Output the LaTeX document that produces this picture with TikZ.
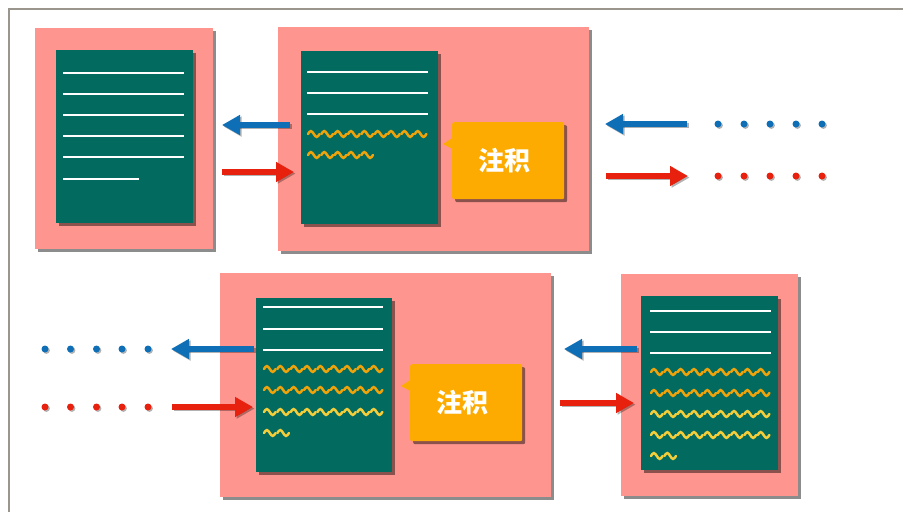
\documentclass[tikz,border=0pt]{standalone}
\usepackage{fontspec}
\newfontfamily\cjk{Noto Sans CJK SC}
\usetikzlibrary{arrows.meta,shadows,calc}
\definecolor{pinkc}{HTML}{FE958E}
\definecolor{greenc}{HTML}{036A60}
\definecolor{callc}{HTML}{FDAB00}
\definecolor{bluec}{HTML}{0F6FB6}
\definecolor{redc}{HTML}{E8200E}
\definecolor{waveo}{HTML}{EFA30A}
\definecolor{wavey}{HTML}{F3CD3A}
\definecolor{framec}{HTML}{9A968E}
\newcommand{\tilderow}[4]{%
  \foreach \k in {1,...,#3}{%
    \draw[wave,#4] ({#1+(\k-1)*13.35},#2) sin ++(2.9,-2.9) cos ++(2.9,2.9) sin ++(2.9,2.9) cos ++(2.9,-2.9);}}
\newcommand{\shadarrow}[3]{% style, from, to
  \draw[#1,draw=black,opacity=0.3,transform canvas={xshift=1.6pt,yshift=-1.6pt}] (#2) -- (#3);
  \draw[#1] (#2) -- (#3);}
\begin{document}
\begin{tikzpicture}[x=1pt,y=-1pt,
  shadowed/.style={drop shadow={shadow xshift=3pt,shadow yshift=-3pt,fill=black,opacity=0.45}},
  panel/.style={fill=pinkc,draw=none,anchor=north west,inner sep=0pt,shadowed},
  doc/.style={fill=greenc,draw=none,anchor=north west,inner sep=0pt,shadowed},
  callout/.style={fill=callc,draw=none,anchor=north west,inner sep=0pt,rounded corners=2pt,shadowed},
  calltext/.style={text=white,font=\cjk\bfseries\fontsize{26}{26}\selectfont,inner sep=0pt},
  wline/.style={draw=white,line width=1.7pt},
  wave/.style={line width=2.5pt,line cap=round},
  barrow/.style={draw=bluec,line width=5.4pt,-{Triangle[length=18pt,width=19pt]}},
  rarrow/.style={draw=redc,line width=5.4pt,-{Triangle[length=18pt,width=19pt]}},
  dotb/.style={fill=bluec},
  dotr/.style={fill=redc}]
\useasboundingbox (0,0) rectangle (903,512);
\fill[white] (0,0) rectangle (903,512);
\draw[framec,line width=2pt] (9,512) -- (9,9) -- (903,9);

% panels
\node[panel,minimum width=178pt,minimum height=221pt] (p1) at (35,28) {};
\node[panel,minimum width=311pt,minimum height=224pt] (p2) at (278,27) {};
\node[panel,minimum width=331pt,minimum height=224pt] (p3) at (220,273) {};
\node[panel,minimum width=177pt,minimum height=222pt] (p4) at (621,274) {};

% documents
\node[doc,minimum width=137pt,minimum height=173pt] (d1) at (56,50) {};
\node[doc,minimum width=137pt,minimum height=173pt] (d2) at (301,51) {};
\node[doc,minimum width=136pt,minimum height=174pt] (d3) at (256,298) {};
\node[doc,minimum width=137pt,minimum height=174pt] (d4) at (641,296) {};

% doc 1 lines
\foreach \yy in {73,94,115,136,157} \draw[wline] (63,\yy) -- (184,\yy);
\draw[wline] (63,179) -- (139,179);
% doc 2
\foreach \yy in {72,93,114} \draw[wline] (307,\yy) -- (428,\yy);
\tilderow{308}{134}{9}{waveo}
\tilderow{308}{155}{5}{waveo}
% doc 3
\foreach \yy in {307,329,350} \draw[wline] (263,\yy) -- (383,\yy);
\tilderow{264}{369}{9}{waveo}
\tilderow{264}{390}{9}{waveo}
\tilderow{264}{412}{9}{wavey}
\tilderow{264}{433}{2}{wavey}
% doc 4
\foreach \yy in {311,332,353} \draw[wline] (650,\yy) -- (771,\yy);
\tilderow{651}{372}{9}{waveo}
\tilderow{651}{393}{9}{waveo}
\tilderow{651}{414}{9}{wavey}
\tilderow{651}{435}{9}{wavey}
\tilderow{651}{456}{2}{wavey}

% callouts
\node[callout,minimum width=112pt,minimum height=77pt] (c2) at (452,122) {};
\fill[callc] ($(c2.north west)+(0.5,16)$) -- ($(c2.north west)+(-9,22)$) -- ($(c2.north west)+(0.5,27)$) -- cycle;
\node[calltext] (t2) at ($(c2.center)+(-4,0)$) {注积};
\node[callout,minimum width=112pt,minimum height=77pt] (c3) at (410,364) {};
\fill[callc] ($(c3.north west)+(0.5,16)$) -- ($(c3.north west)+(-9,22)$) -- ($(c3.north west)+(0.5,27)$) -- cycle;
\node[calltext] (t3) at ($(c3.center)+(-4,0)$) {注积};

% arrow endpoints
\coordinate (a1s) at (290,125); \coordinate (a1e) at (222,125);
\coordinate (a2s) at (222,172); \coordinate (a2e) at (294,172);
\coordinate (a3s) at (687,124); \coordinate (a3e) at (605,124);
\coordinate (a4s) at (606,176); \coordinate (a4e) at (688,176);
\coordinate (a5s) at (254,349); \coordinate (a5e) at (171,349);
\coordinate (a6s) at (172,407); \coordinate (a6e) at (253,407);
\coordinate (a7s) at (637,349); \coordinate (a7e) at (564,349);
\coordinate (a8s) at (560,403); \coordinate (a8e) at (634,403);
\shadarrow{barrow}{a1s}{a1e}
\shadarrow{rarrow}{a2s}{a2e}
\shadarrow{barrow}{a3s}{a3e}
\shadarrow{rarrow}{a4s}{a4e}
\shadarrow{barrow}{a5s}{a5e}
\shadarrow{rarrow}{a6s}{a6e}
\shadarrow{barrow}{a7s}{a7e}
\shadarrow{rarrow}{a8s}{a8e}

% dots
\foreach \xx in {718,744,770,796,822}{
  \fill[black,opacity=0.3] (\xx+1.4,125.4) circle (3.5);
  \fill[dotb] (\xx,124) circle (3.5);
  \fill[black,opacity=0.3] (\xx+1.4,177.4) circle (3.5);
  \fill[dotr] (\xx,176) circle (3.5);}
\foreach \xx in {45,70.5,96.5,122,148}{
  \fill[black,opacity=0.3] (\xx+1.4,350.4) circle (3.5);
  \fill[dotb] (\xx,349) circle (3.5);
  \fill[black,opacity=0.3] (\xx+1.4,408.4) circle (3.5);
  \fill[dotr] (\xx,407) circle (3.5);}
\end{tikzpicture}
\end{document}
